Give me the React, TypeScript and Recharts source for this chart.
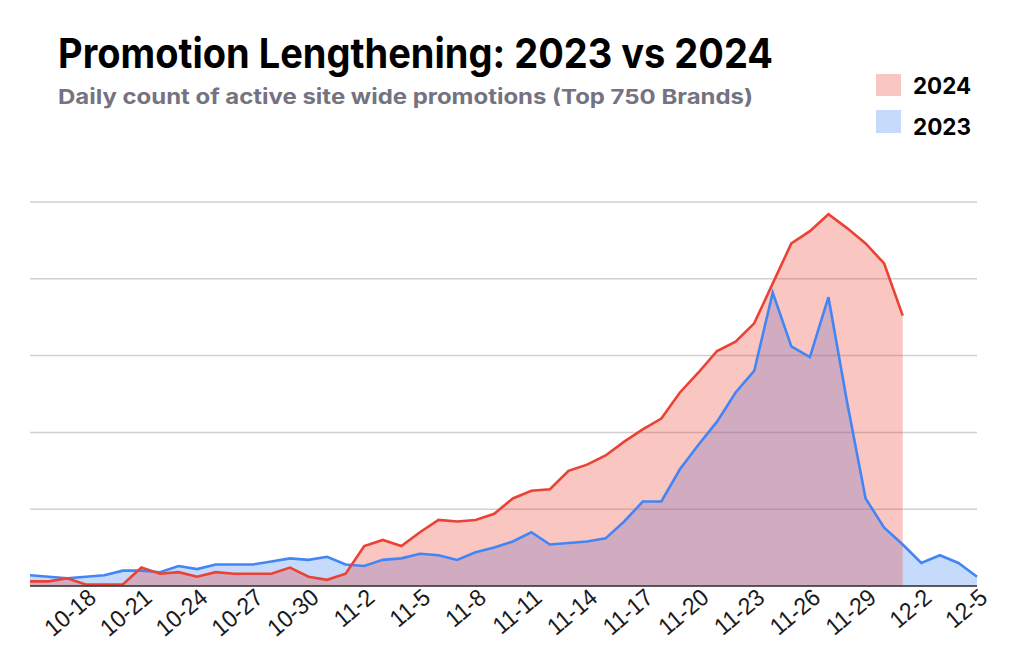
import React from 'react';
import { ComposedChart, Area, Line, XAxis, YAxis, CartesianGrid } from 'recharts';

const dates = [
    '10-15', '10-16', '10-17', '10-18', '10-19', '10-20', '10-21', '10-22', '10-23', '10-24',
    '10-25', '10-26', '10-27', '10-28', '10-29', '10-30', '10-31', '11-1', '11-2', '11-3',
    '11-4', '11-5', '11-6', '11-7', '11-8', '11-9', '11-10', '11-11', '11-12', '11-13',
    '11-14', '11-15', '11-16', '11-17', '11-18', '11-19', '11-20', '11-21', '11-22', '11-23',
    '11-24', '11-25', '11-26', '11-27', '11-28', '11-29', '11-30', '12-1', '12-2', '12-3',
    '12-4', '12-5',
];

const promos2024 = [
    3, 3, 5, 1, 1, 1, 12, 8, 9, 6,
    9, 8, 8, 8, 12, 6, 4, 8, 26, 30,
    26, 35, 43, 42, 43, 47, 57, 62, 63, 75,
    79, 85, 94, 102, 109, 126, 139, 153, 159, 171,
    197, 223, 231, 242, 233, 223, 210, 176, null, null,
    null, null,
];

const promos2023 = [
    7, 6, 5, 6, 7, 10, 10, 9, 13, 11,
    14, 14, 14, 16, 18, 17, 19, 14, 13, 17,
    18, 21, 20, 17, 22, 25, 29, 35, 27, 28,
    29, 31, 42, 55, 55, 76, 92, 107, 126, 140,
    191, 156, 149, 188, 120, 57, 38, 27, 15, 20,
    15, 6,
];

const tickDates = [
    '10-18', '10-21', '10-24', '10-27', '10-30', '11-2', '11-5', '11-8', '11-11',
    '11-14', '11-17', '11-20', '11-23', '11-26', '11-29', '12-2', '12-5',
];

const yTicks = [0, 50, 100, 150, 200, 250];

const data = dates.map((date, i) => ({ date, y2024: promos2024[i], y2023: promos2023[i] }));

const RED = '#EA4335';
const BLUE = '#4285F4';

// rotated date labels, end of text sits just right of the point
const DateTick = ({ x, y, payload }: any) => (
    <g transform={`translate(${x + 12},${y + 6})`}>
        <text
            x={0}
            y={0}
            textAnchor="end"
            transform="rotate(-40) scale(0.95,1)"
            fontSize={24}
            fontFamily="'Liberation Sans', Arial, sans-serif"
            fill="#1a1a1a"
        >
            {payload.value}
        </text>
    </g>
);

const App: React.FC = () => {
    return (
        <div style={{ position: 'absolute', left: 0, top: 0, width: 1026, height: 661, background: '#fff' }}>
            <ComposedChart width={1026} height={661} data={data} margin={{ top: 202, right: 49, left: 30, bottom: 15 }}>
                <CartesianGrid vertical={false} stroke="#d0d0d0" strokeWidth={1.5} />
                <XAxis
                    dataKey="date"
                    ticks={tickDates}
                    interval={0}
                    height={60}
                    tickLine={false}
                    axisLine={{ stroke: '#333', strokeWidth: 1.5 }}
                    tick={<DateTick />}
                />
                <YAxis hide domain={[0, 250]} ticks={yTicks} />
                <Area type="linear" dataKey="y2023" stroke="none" fill={BLUE} fillOpacity={0.3} isAnimationActive={false} />
                <Area type="linear" dataKey="y2024" stroke="none" fill={RED} fillOpacity={0.3} isAnimationActive={false} />
                <Line type="linear" dataKey="y2023" stroke={BLUE} strokeWidth={2.6} dot={false} isAnimationActive={false} />
                <Line type="linear" dataKey="y2024" stroke={RED} strokeWidth={2.6} dot={false} isAnimationActive={false} />
            </ComposedChart>
            <svg
                width={1026}
                height={661}
                style={{ position: 'absolute', left: 0, top: 0, pointerEvents: 'none' }}
                fontFamily="Inter, 'Noto Sans', sans-serif"
            >
                <text x={58} y={68} fontSize={41} fontWeight={700} fill="#000" textLength={715} lengthAdjust="spacingAndGlyphs">
                    Promotion Lengthening: 2023 vs 2024
                </text>
                <text x={58} y={104} fontSize={20.5} fontWeight={700} fill="#74737f" textLength={695} lengthAdjust="spacingAndGlyphs">
                    Daily count of active site wide promotions (Top 750 Brands)
                </text>
                <rect x={876} y={74} width={25} height={22} fill="#f9c7c2" />
                <text x={913} y={94} fontSize={23} fontWeight={700} fill="#000" textLength={58} lengthAdjust="spacingAndGlyphs">
                    2024
                </text>
                <rect x={876} y={110} width={25} height={23} fill="#c6dafc" />
                <text x={913} y={135} fontSize={23} fontWeight={700} fill="#000" textLength={58} lengthAdjust="spacingAndGlyphs">
                    2023
                </text>
            </svg>
        </div>
    );
};

export default App;
